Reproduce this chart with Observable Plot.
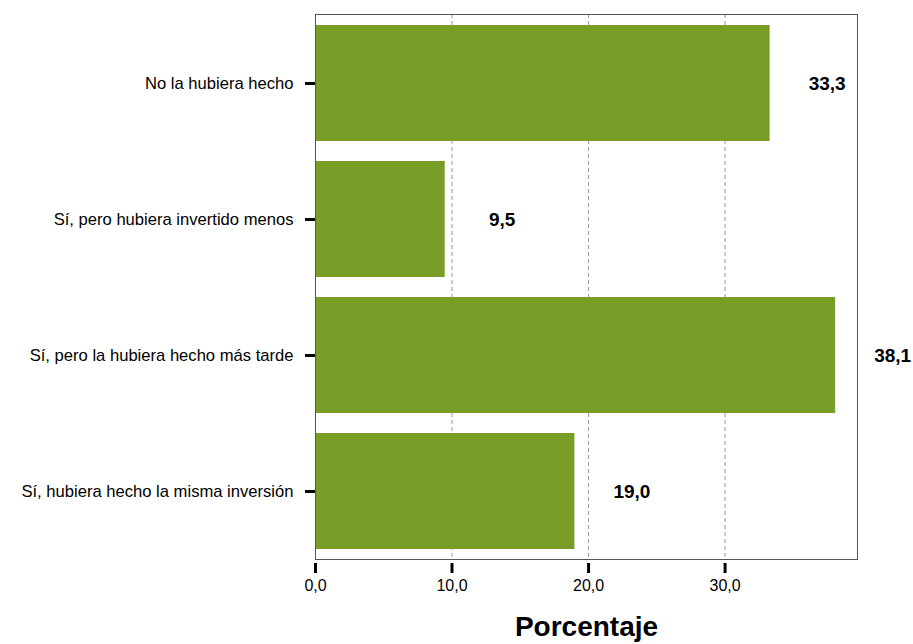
<!DOCTYPE html>
<html>
<head>
<meta charset="utf-8">
<script src="https://cdn.jsdelivr.net/npm/d3@7"></script>
<script src="https://cdn.jsdelivr.net/npm/@observablehq/plot@0.6"></script>
<style>
  html, body { margin: 0; padding: 0; background: #fff; }
  #chart svg { display: block; font-family: "Liberation Sans", Arial, sans-serif; }
</style>
</head>
<body>
<div id="chart"></div>
<script>
const categories = [
  "No la hubiera hecho",
  "Sí, pero hubiera invertido menos",
  "Sí, pero la hubiera hecho más tarde",
  "Sí, hubiera hecho la misma inversión"
];
const values = [33.3, 9.5, 38.1, 19.0];
const xTicks = [0, 10, 20, 30];
const gridValues = [10, 20, 30];

const data = categories.map((c, i) => ({cat: c, val: values[i]}));
const fmt = v => v.toFixed(1).replace(".", ",");

const chart = Plot.plot({
  width: 913,
  height: 644,
  marginTop: 14,
  marginBottom: 85,
  marginLeft: 315,
  marginRight: 56,
  style: {fontFamily: "'Liberation Sans', Arial, sans-serif", background: "#fff"},
  x: {domain: [0, 39.7]},
  y: {domain: categories, paddingInner: 0.15, paddingOuter: 0.075},
  marks: [
    Plot.ruleX(gridValues, {stroke: "#999", strokeDasharray: "4,3", strokeWidth: 1}),
    Plot.barX(data, {x: "val", y: "cat", fill: "#789d27"}),
    Plot.text(data, {x: "val", y: "cat", text: d => fmt(d.val), dx: 57, fontSize: 19, fontWeight: "bold", fill: "#000"}),
    Plot.frame({stroke: "#555", strokeWidth: 1}),
    Plot.axisY({tickSize: 10, tickPadding: 12, stroke: "#000", strokeWidth: 3, fontSize: 16.6, label: null, fill: "#000"}),
    Plot.axisX({ticks: xTicks, tickFormat: fmt, tickSize: 10, tickPadding: 6, stroke: "#000", strokeWidth: 3, fontSize: 16, label: null, fill: "#000", dy: 4}),
    Plot.text(["Porcentaje"], {frameAnchor: "bottom", dy: 76, fontSize: 28, fontWeight: "bold", fill: "#000"})
  ]
});
document.getElementById("chart").appendChild(chart);
</script>
</body>
</html>
